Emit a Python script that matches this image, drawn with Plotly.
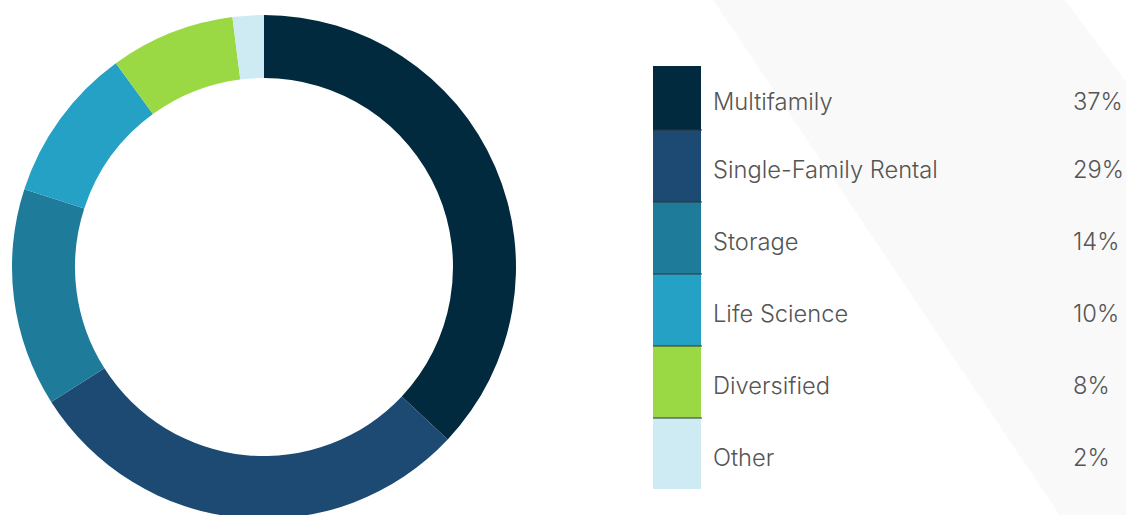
import plotly.graph_objects as go

categories = ["Multifamily", "Single-Family Rental", "Storage", "Life Science", "Diversified", "Other"]
values = [37, 29, 14, 10, 8, 2]
pct_labels = ["37%", "29%", "14%", "10%", "8%", "2%"]
colors = ["#022a3e", "#1d4a73", "#1f7b9a", "#25a1c5", "#9bd944", "#ceebf3"]

W, H = 1126, 520  # slightly taller than the window so the ring is cut at the bottom

def px(x):
    return x / W

def py(y):
    return 1 - y / H

fig = go.Figure()
fig.add_trace(go.Pie(
    labels=categories, values=values, hole=0.75, sort=False,
    direction="clockwise", rotation=0, textinfo="none",
    marker=dict(colors=colors, line=dict(width=0)),
    domain=dict(x=[px(12), px(516)], y=[py(519), py(15)]),
    showlegend=False, hoverinfo="label+percent",
))

shapes = []
# light diagonal background band
shapes.append(dict(
    type="path", xref="paper", yref="paper", layer="below",
    path=f"M {px(713)},{py(0)} L {px(1065)},{py(0)} L {px(1126)},{py(82)} L {px(1126)},{py(520)} L {px(1063)},{py(520)} Z",
    fillcolor="#f9f9f9", line=dict(width=0),
))

FONT = dict(family="Inter", size=23.7, color="#555555", weight=300)
bounds = [66, 130, 202, 274, 346, 418, 489]
annotations = []
for i, (cat, pct, col) in enumerate(zip(categories, pct_labels, colors)):
    y0, y1 = bounds[i], bounds[i + 1]
    shapes.append(dict(type="rect", xref="paper", yref="paper",
                       x0=px(653), x1=px(701), y0=py(y1), y1=py(y0),
                       fillcolor=col, line=dict(width=0)))
    yc = (y0 + y1) / 2 + 3.5 if i > 0 else 102
    annotations.append(dict(xref="paper", yref="paper", x=px(710.5), y=py(yc),
                            text=cat, showarrow=False, xanchor="left", yanchor="middle",
                            font=FONT))
    annotations.append(dict(xref="paper", yref="paper", x=px(1071), y=py(yc),
                            text=pct, showarrow=False, xanchor="left", yanchor="middle",
                            font=FONT))
for b in bounds[1:-1]:
    shapes.append(dict(type="line", xref="paper", yref="paper",
                       x0=px(653), x1=px(702), y0=py(b), y1=py(b),
                       line=dict(color="#333333", width=1)))

fig.update_layout(
    width=W, height=H, autosize=False,
    margin=dict(l=0, r=0, t=0, b=0),
    paper_bgcolor="white", plot_bgcolor="white",
    shapes=shapes, annotations=annotations,
)

fig.write_html("out.html", config={"displayModeBar": False},
               post_script="document.body.style.margin='0px';")
